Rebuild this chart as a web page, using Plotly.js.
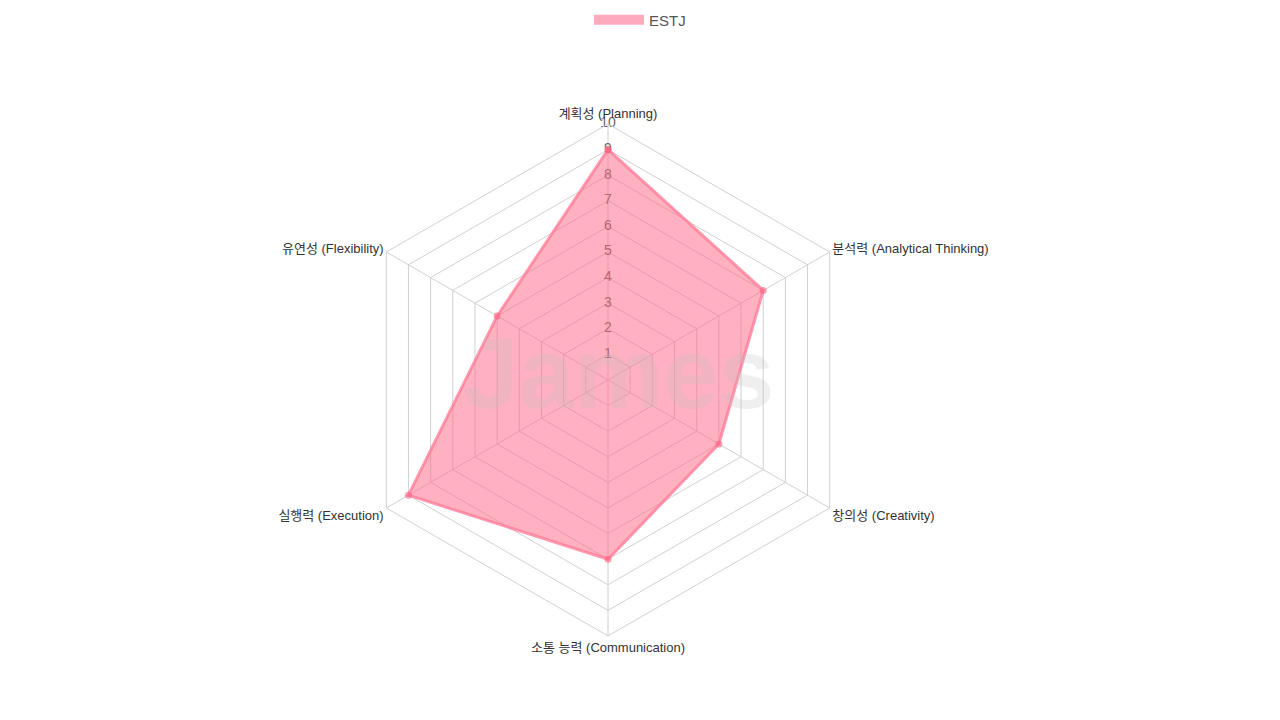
<!DOCTYPE html>
<html>
<head>
<meta charset="utf-8">
<script src="https://cdn.plot.ly/plotly-3.0.1.min.js"></script>
<style>html,body{margin:0;padding:0;background:#fff;}#chart{width:1280px;height:720px;}</style>
</head>
<body>
<div id="chart"></div>
<script>
const categories = ["계획성 (Planning)", "분석력 (Analytical Thinking)", "창의성 (Creativity)", "소통 능력 (Communication)", "실행력 (Execution)", "유연성 (Flexibility)"];
const seriesName = "ESTJ";
const values = [9, 7, 5, 7, 9, 5];
const radialTicks = [1, 2, 3, 4, 5, 6, 7, 8, 9, 10];
const radialTickLabels = ["1", "2", "3", "4", "5", "6", "7", "8", "9", "10"];
const watermark = "James";

const FONT = "Liberation Sans, Helvetica, Arial, Noto Sans CJK KR, sans-serif";

const tickTrace = {
  type: "scatterpolar",
  mode: "text",
  r: radialTicks,
  theta: radialTicks.map(() => categories[0]),
  text: radialTickLabels,
  textfont: {family: FONT, size: 14, color: "#666"},
  textposition: "middle center",
  showlegend: false,
  hoverinfo: "skip"
};

const dataTrace = {
  type: "scatterpolar",
  mode: "lines+markers",
  name: seriesName,
  r: values.concat([values[0]]),
  theta: categories.concat([categories[0]]),
  fill: "toself",
  fillcolor: "rgba(255,99,132,0.5)",
  line: {color: "rgba(255,120,150,0.75)", width: 3},
  marker: {color: "rgba(255,99,132,0.6)", size: 7},
  showlegend: false
};

const legendTrace = {
  type: "scatterpolar",
  mode: "lines",
  name: seriesName,
  r: [null],
  theta: [categories[0]],
  line: {color: "rgba(255,140,165,0.75)", width: 16},
  hoverinfo: "skip"
};

const layout = {
  width: 1280, height: 720,
  margin: {l: 0, r: 0, t: 0, b: 0},
  paper_bgcolor: "#fff",
  font: {family: FONT, size: 13, color: "#333"},
  showlegend: true,
  legend: {orientation: "h", x: 0.5, xanchor: "center", y: 0.995, yanchor: "top", itemwidth: 50, font: {family: FONT, size: 15, color: "#555"}},
  polar: {
    domain: {x: [0.275, 0.675], y: [0.1167, 0.8278]},
    bgcolor: "rgba(0,0,0,0)",
    gridshape: "linear",
    angularaxis: {
      rotation: 90, direction: "clockwise",
      tickfont: {family: FONT, size: 13, color: "#333"},
      gridcolor: "#d0d0d0", linecolor: "#d0d0d0", gridwidth: 1,
      ticks: ""
    },
    radialaxis: {
      range: [0, 10], tickvals: radialTicks, showticklabels: false,
      gridcolor: "#d0d0d0", showline: false, ticks: "", angle: 90
    }
  },
  annotations: [{
    text: "<b>" + watermark + "</b>", x: 0.483, y: 0.482, xref: "paper", yref: "paper",
    showarrow: false, font: {family: FONT, size: 100, color: "rgba(190,190,190,0.25)"}
  }]
};

Plotly.newPlot("chart", [tickTrace, dataTrace, legendTrace], layout, {displayModeBar: false});
</script>
</body>
</html>
